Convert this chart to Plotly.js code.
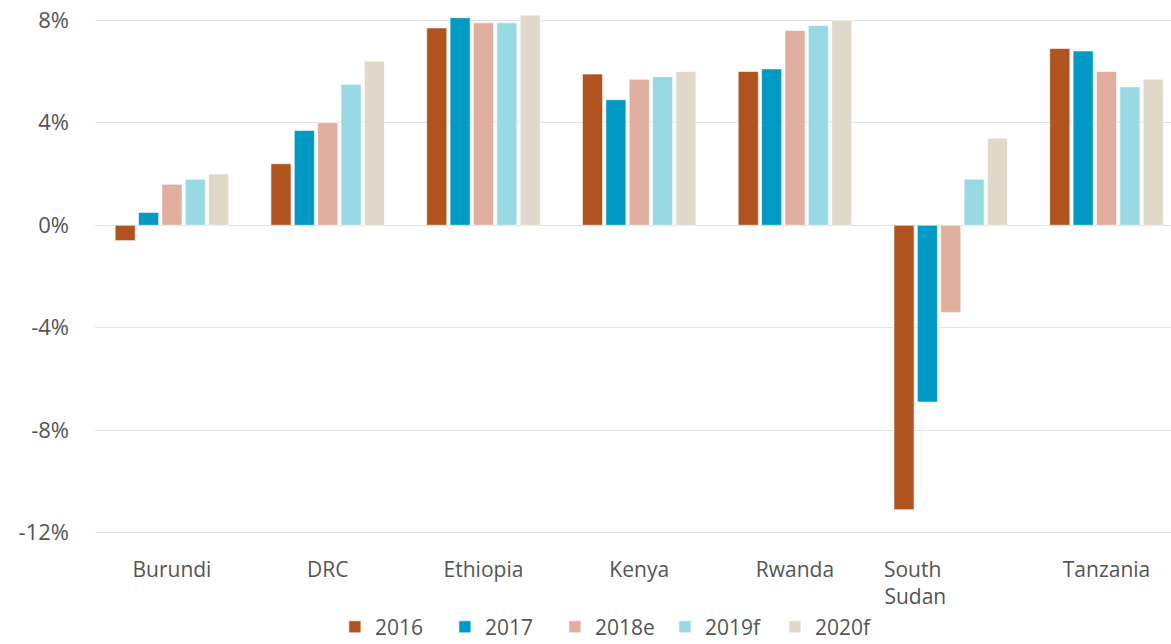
<!DOCTYPE html>
<html>
<head>
<meta charset="utf-8">
<script src="https://cdn.plot.ly/plotly-3.0.1.min.js"></script>
<style>html,body{margin:0;padding:0;background:#fff;}#chart{width:1171px;height:644px;}</style>
</head>
<body>
<div id="chart"></div>
<script>
const countries = ["Burundi", "DRC", "Ethiopia", "Kenya", "Rwanda", "South Sudan", "Tanzania"];
const countryLabels = ["Burundi", "DRC", "Ethiopia", "Kenya", "Rwanda", "South<br>Sudan", "Tanzania"];
const seriesNames = ["2016", "2017", "2018e", "2019f", "2020f"];
const growth2016 = [-0.6, 2.4, 7.7, 5.9, 6.0, -11.1, 6.9];
const growth2017 = [0.5, 3.7, 8.1, 4.9, 6.1, -6.9, 6.8];
const growth2018e = [1.6, 4.0, 7.9, 5.7, 7.6, -3.4, 6.0];
const growth2019f = [1.8, 5.5, 7.9, 5.8, 7.8, 1.8, 5.4];
const growth2020f = [2.0, 6.4, 8.2, 6.0, 8.0, 3.4, 5.7];
const yTickVals = [-12, -8, -4, 0, 4, 8];
const yTickText = ["-12%", "-8%", "-4%", "0%", "4%", "8%"];

const colors = ["#B1531F", "#009AC4", "#E0AFA0", "#99D9E3", "#E0D9CA"];
const allSeries = [growth2016, growth2017, growth2018e, growth2019f, growth2020f];

const traces = allSeries.map((vals, i) => ({
  type: "bar",
  name: seriesNames[i],
  x: countries,
  y: vals,
  marker: {color: colors[i], line: {color: "rgba(255,255,255,0.6)", width: 1}},
  hoverinfo: "skip"
}));

// the reference wraps "South Sudan" with both lines left-aligned; pad lines so they sit left
const pad = n => "\u00a0".repeat(n);
const shownLabels = countryLabels.map(l => l === "South<br>Sudan" ? "South" + pad(14) + "<br>Sudan" + pad(13) : l);

const font = "'Open Sans', Roboto, sans-serif";
const layout = {
  width: 1171, height: 644,
  margin: {l: 95, r: 0, t: 10, b: 101, autoexpand: false},
  paper_bgcolor: "#fff", plot_bgcolor: "#fff",
  font: {family: font, color: "#555", size: 21},
  barmode: "group",
  bargap: 0.25,
  bargroupgap: 0.14,
  showlegend: true,
  legend: {
    orientation: "h",
    xref: "container", yref: "container",
    x: 0.286, xanchor: "left",
    y: 0.058, yanchor: "top",
    font: {family: font, size: 21, color: "#555"},
    entrywidth: 65,
    traceorder: "normal"
  },
  xaxis: {
    type: "category",
    range: [-0.494, 6.414],
    tickmode: "array",
    tickvals: countries,
    ticktext: shownLabels,
    showgrid: false, zeroline: false, showline: false,
    ticks: "",
    tickfont: {family: font, size: 21, color: "#555"},
    ticklabelstandoff: 12,
    fixedrange: true
  },
  yaxis: {
    range: [-12.4, 8.4],
    tickmode: "array",
    tickvals: yTickVals,
    ticktext: yTickText,
    showgrid: true, gridcolor: "#e2e2e2", gridwidth: 1,
    zeroline: true, zerolinecolor: "#e2e2e2", zerolinewidth: 1,
    showline: false, ticks: "",
    tickfont: {family: font, size: 22, color: "#555"},
    ticklabelstandoff: 25,
    fixedrange: true
  }
};

Plotly.newPlot("chart", traces, layout, {displayModeBar: false, staticPlot: true});
</script>
</body>
</html>
